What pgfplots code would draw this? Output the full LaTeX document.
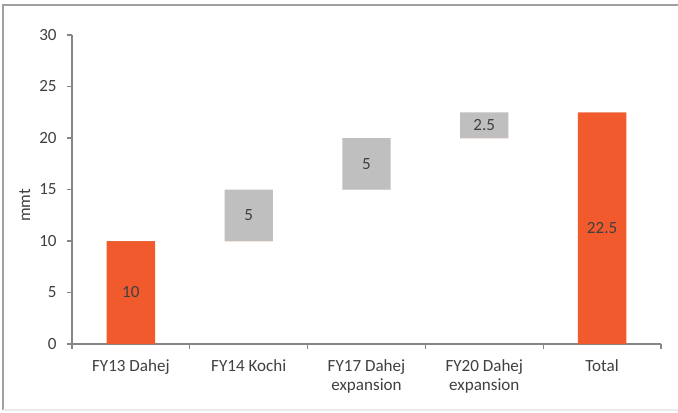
\documentclass[border=0pt]{standalone}
\usepackage{pgfplots}
\pgfplotsset{compat=1.18}
\usepackage{fontspec}
\setmainfont{Carlito}
\definecolor{orng}{RGB}{240,90,45}
\definecolor{gbar}{RGB}{191,191,191}
\definecolor{axgray}{RGB}{134,134,134}
\definecolor{txt}{RGB}{64,64,64}
\begin{document}
\begin{tikzpicture}[x=0.75pt,y=0.75pt]
\useasboundingbox (-72,-68) rectangle (606,344);
\draw[color={rgb,255:red,160;green,160;blue,160}, line width=1.2pt] (-69,-66) -- (-69,339) -- (606,339);
\draw[color={rgb,255:red,235;green,235;blue,235}, line width=0.8pt] (-69,-66) -- (606,-66);
\begin{axis}[
  at={(0,0)}, anchor=south west, scale only axis,
  width=441.75pt, height=231.75pt,
  xmin=-0.5, xmax=4.5, ymin=0, ymax=30,
  axis lines=left, axis line style={-, axgray, line width=0.8pt},
  ytick={0,5,...,30},
  xtick={-0.5,0.5,...,4.5},
  x tick label as interval,
  xticklabels={FY13 Dahej, FY14 Kochi, {FY17 Dahej\\expansion}, {FY20 Dahej\\expansion}, Total},
  xticklabel style={align=center, text=txt, font=\fontsize{12.8}{14.5}\selectfont, yshift=-4pt},
  yticklabel style={text=txt, font=\fontsize{12.8}{14.5}\selectfont, xshift=-4pt},
  tick align=outside, major tick length=4pt,
  tick style={axgray, line width=0.8pt},
  /pgf/number format/assume math mode=true,
  ylabel={mmt}, ylabel style={text=txt, font=\fontsize{12.8}{14.5}\selectfont},
  every axis y label/.append style={at={(ticklabel cs:0.5)}, xshift=-12pt},
  clip=false,
  wf/.style={ybar, bar width=0.41, bar shift=0pt, stack plots=y, draw=none},
]
\addplot[wf, fill=none] coordinates {(0,0) (1,10) (2,15) (3,20) (4,0)};
\addplot[wf, fill=orng] coordinates {(0,10) (1,0) (2,0) (3,0) (4,22.5)};
\addplot[wf, fill=gbar] coordinates {(0,0) (1,5) (2,5) (3,2.5) (4,0)};
\addplot[stack plots=false, only marks, mark=none, nodes near coords, point meta=explicit symbolic,
  nodes near coords style={text=txt, font=\fontsize{12.8}{14.5}\selectfont, anchor=center, inner sep=0pt}]
  table[meta=lab] {
x y lab
0 5 10
1 12.5 5
2 17.5 5
3 21.25 2.5
4 11.25 22.5
};
\end{axis}
\end{tikzpicture}
\end{document}
